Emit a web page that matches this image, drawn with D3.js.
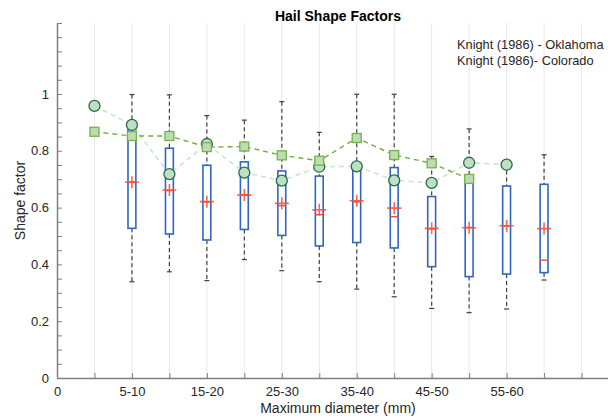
<!DOCTYPE html>
<html>
<head>
<meta charset="utf-8">
<script src="https://cdn.jsdelivr.net/npm/d3@7"></script>
<style>
  body { margin: 0; background: #fff; }
  text { font-family: "Liberation Sans", Arial, sans-serif; }
</style>
</head>
<body>
<div id="vis"></div>
<script>
// tick labels on the x axis (every second position)
var tickPos = [0, 2, 4, 6, 8, 10, 12];
var tickLabels = ['0', '5-10', '15-20', '25-30', '35-40', '45-50', '55-60'];

// box plot statistics, one entry per size class
var boxPos = [2, 3, 4, 5, 6, 7, 8, 9, 10, 11, 12, 13];
var upperWhisker = [0.998, 0.997, 0.924, 0.908, 0.973, 0.865, 0.999, 0.999, 0.780, 0.877, 0.755, 0.786];
var q3 = [0.875, 0.809, 0.749, 0.761, 0.729, 0.711, 0.738, 0.741, 0.639, 0.697, 0.676, 0.682];
var medians = [0.690, 0.660, 0.620, 0.645, 0.607, 0.575, 0.620, 0.568, 0.525, 0.530, 0.535, 0.415];
var means = [0.689, 0.662, 0.621, 0.644, 0.615, 0.592, 0.624, 0.598, 0.527, 0.529, 0.536, 0.526];
var q1 = [0.527, 0.507, 0.486, 0.523, 0.502, 0.465, 0.477, 0.458, 0.392, 0.357, 0.366, 0.371];
var lowerWhisker = [0.339, 0.374, 0.343, 0.417, 0.378, 0.339, 0.313, 0.286, 0.245, 0.230, 0.243, 0.345];

// Knight (1986) series
var okPos = [1, 2, 3, 4, 5, 6, 7, 8, 9, 10, 11, 12];
var okValues = [0.958, 0.891, 0.718, 0.824, 0.723, 0.695, 0.744, 0.745, 0.696, 0.687, 0.758, 0.751];
var coPos = [1, 2, 3, 4, 5, 6, 7, 8, 9, 10, 11];
var coValues = [0.867, 0.852, 0.852, 0.813, 0.815, 0.784, 0.765, 0.845, 0.785, 0.756, 0.701];

var width = 608;
var height = 416;
var margin = { top: 23, bottom: 38, left: 57, right: -11 };

var svg = d3.select('#vis')
    .append('svg')
    .attr('width', width)
    .attr('height', height);

var x = d3.scaleLinear()
    .domain([0, 15])
    .range([margin.left, width - margin.right]);

var y = d3.scaleLinear()
    .domain([0, 1.25])
    .range([height - margin.bottom, margin.top]);

var axisColor = '#7f7f7f';
var textColor = '#262626';

// vertical grid
svg.append('g')
    .selectAll('line')
    .data(d3.range(1, 15))
    .enter()
    .append('line')
    .attr('x1', function(d) { return x(d); })
    .attr('x2', function(d) { return x(d); })
    .attr('y1', y(0))
    .attr('y2', y(1.25))
    .attr('stroke', '#e8e8e8')
    .attr('stroke-width', 1);

// x axis: ticks every position, labels every second
var xAxis = svg.append('g')
    .attr('transform', 'translate(0,' + y(0) + ')')
    .call(d3.axisBottom(x)
        .tickValues(d3.range(0, 16))
        .tickSizeInner(-5)
        .tickSizeOuter(0)
        .tickPadding(9)
        .tickFormat(function(d) {
            var i = tickPos.indexOf(d);
            return i >= 0 ? tickLabels[i] : '';
        }));

// y axis with minor ticks
var yAxis = svg.append('g')
    .attr('transform', 'translate(' + x(0) + ',0)')
    .call(d3.axisLeft(y)
        .tickValues(d3.range(0, 26).map(function(i) { return i * 0.05; }))
        .tickSizeInner(-5)
        .tickSizeOuter(0)
        .tickPadding(8)
        .tickFormat(function(d) {
            var r = Math.round(d * 100);
            if (r % 20 !== 0 || r > 100) return '';
            return r === 100 ? '1' : r === 0 ? '0' : d3.format('.1f')(d);
        }));

[xAxis, yAxis].forEach(function(a) {
    a.select('.domain').attr('stroke', axisColor).attr('stroke-width', 1.5);
    a.selectAll('.tick line').attr('stroke', axisColor);
    a.selectAll('.tick text')
        .attr('fill', textColor)
        .style('font-size', '13px');
});

// boxes
var boxW = 0.21;
var boxes = svg.append('g');

boxPos.forEach(function(p, i) {
    var cx = x(p);
    var half = (x(boxW) - x(0)) / 2;

    // whiskers
    boxes.append('line')
        .attr('x1', cx).attr('x2', cx)
        .attr('y1', y(upperWhisker[i])).attr('y2', y(q3[i]))
        .attr('stroke', '#404040').attr('stroke-width', 1.2)
        .attr('stroke-dasharray', '4,3');
    boxes.append('line')
        .attr('x1', cx).attr('x2', cx)
        .attr('y1', y(q1[i])).attr('y2', y(lowerWhisker[i]))
        .attr('stroke', '#404040').attr('stroke-width', 1.2)
        .attr('stroke-dasharray', '4,3');
    [upperWhisker[i], lowerWhisker[i]].forEach(function(v) {
        boxes.append('line')
            .attr('x1', cx - 2.5).attr('x2', cx + 2.5)
            .attr('y1', y(v)).attr('y2', y(v))
            .attr('stroke', '#404040').attr('stroke-width', 1.2);
    });

    boxes.append('rect')
        .attr('x', cx - half)
        .attr('y', y(q3[i]))
        .attr('width', half * 2)
        .attr('height', y(q1[i]) - y(q3[i]))
        .attr('fill', '#fff')
        .attr('stroke', '#2f66c0')
        .attr('stroke-width', 1.6);

    boxes.append('line')
        .attr('x1', cx - half).attr('x2', cx + half)
        .attr('y1', y(medians[i])).attr('y2', y(medians[i]))
        .attr('stroke', '#f4502e').attr('stroke-width', 1.4);

    // mean marker
    boxes.append('path')
        .attr('d', 'M' + (cx - 7) + ',' + y(means[i]) + 'H' + (cx + 7) +
            'M' + cx + ',' + (y(means[i]) - 6) + 'V' + (y(means[i]) + 6))
        .attr('stroke', '#ff4a2a')
        .attr('stroke-opacity', 0.85)
        .attr('stroke-width', 1.6);
});

// Oklahoma series
var okData = okPos.map(function(p, i) { return [p, okValues[i]]; });
var line = d3.line()
    .x(function(d) { return x(d[0]); })
    .y(function(d) { return y(d[1]); });

svg.append('path')
    .datum(okData)
    .attr('d', line)
    .attr('fill', 'none')
    .attr('stroke', '#c6e5cc')
    .attr('stroke-width', 1.5)
    .attr('stroke-dasharray', '5,4');

svg.append('g')
    .selectAll('circle')
    .data(okData)
    .enter()
    .append('circle')
    .attr('cx', function(d) { return x(d[0]); })
    .attr('cy', function(d) { return y(d[1]); })
    .attr('r', 5.5)
    .attr('fill', '#bfdfc5')
    .attr('stroke', '#2b6a48')
    .attr('stroke-width', 1.3);

// Colorado series
var coData = coPos.map(function(p, i) { return [p, coValues[i]]; });

svg.append('path')
    .datum(coData)
    .attr('d', line)
    .attr('fill', 'none')
    .attr('stroke', '#72ad3f')
    .attr('stroke-width', 1.4)
    .attr('stroke-dasharray', '5,4');

svg.append('g')
    .selectAll('rect')
    .data(coData)
    .enter()
    .append('rect')
    .attr('x', function(d) { return x(d[0]) - 4.5; })
    .attr('y', function(d) { return y(d[1]) - 4.5; })
    .attr('width', 9)
    .attr('height', 9)
    .attr('fill', '#bcdcb2')
    .attr('stroke', '#76b24a')
    .attr('stroke-width', 1.3);

// title and labels
svg.append('text')
    .attr('x', (x(0) + x(15)) / 2)
    .attr('y', 21)
    .attr('text-anchor', 'middle')
    .attr('font-weight', 'bold')
    .attr('font-size', 14)
    .attr('fill', '#000')
    .text('Hail Shape Factors');

svg.append('text')
    .attr('x', (x(0) + x(15)) / 2)
    .attr('y', 413)
    .attr('text-anchor', 'middle')
    .attr('font-size', 14)
    .attr('fill', textColor)
    .text('Maximum diameter (mm)');

svg.append('text')
    .attr('transform', 'translate(25,' + ((y(0) + y(1.25)) / 2) + ') rotate(-90)')
    .attr('text-anchor', 'middle')
    .attr('font-size', 14)
    .attr('fill', textColor)
    .text('Shape factor');

// legend (text only), nudged left so it fits in the window
var legendNames = ['Knight (1986) - Oklahoma', 'Knight (1986)- Colorado'];
svg.append('g')
    .selectAll('text')
    .data(legendNames)
    .enter()
    .append('text')
    .attr('x', 457)
    .attr('y', function(d, i) { return 49 + i * 15.5; })
    .attr('font-size', 12.8)
    .attr('fill', textColor)
    .text(function(d) { return d; });
</script>
</body>
</html>
